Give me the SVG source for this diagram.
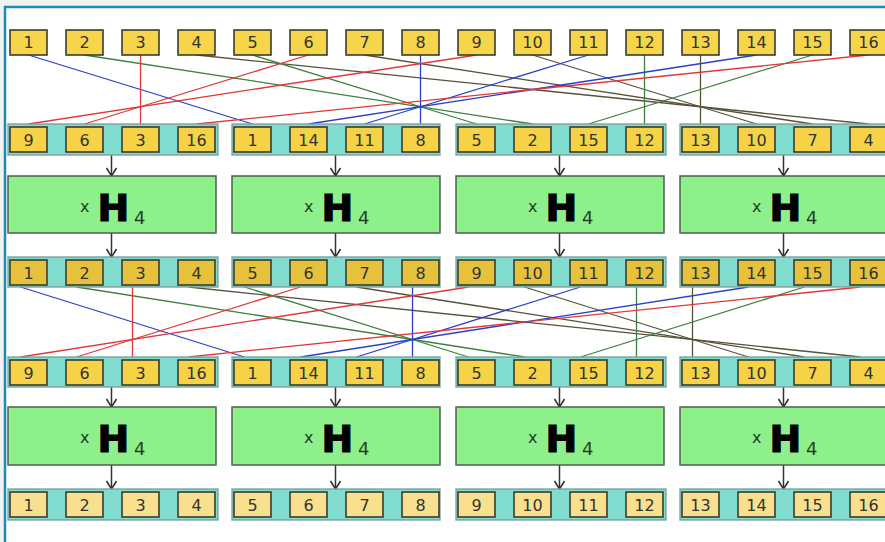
<svg xmlns="http://www.w3.org/2000/svg" width="885" height="542" viewBox="0 0 885 542">
<defs>
<style>
.bg{fill:#f2f2f2}
.frame{fill:#ffffff;stroke:#1b8cb6;stroke-width:2.5}
.strip{fill:#80ddd0;stroke:#7a9c94;stroke-width:1.3}
.b1{fill:#f7d54a;stroke:#3d3b2c;stroke-width:1.6}
.b2{fill:#f5d246;stroke:#3d3b2c;stroke-width:1.6}
.b3{fill:#e6c13c;stroke:#3d3b2c;stroke-width:1.6}
.b5{fill:#f8e08e;stroke:#3d3b2c;stroke-width:1.6}
.t{font-family:"DejaVu Sans",Verdana,sans-serif;font-size:16px;fill:#333;text-anchor:middle}
.h{fill:#8ef08a;stroke:#4f5f4f;stroke-width:1.5}
.hx{font-family:"DejaVu Sans",sans-serif;font-size:16px;fill:#2a3a2a}
.hH{font-family:"DejaVu Sans",sans-serif;font-weight:bold;font-size:38px;fill:#000;stroke:#000;stroke-width:1.2}
.h4{font-family:"DejaVu Sans",sans-serif;font-size:18px;fill:#2a3a2a}
.r{stroke:#e0383a;stroke-width:1.3;fill:none}
.u{stroke:#2c3fc8;stroke-width:1.3;fill:none}
.g{stroke:#3f7f3f;stroke-width:1.3;fill:none}
.d{stroke:#57503a;stroke-width:1.3;fill:none}
.ar{stroke:#333;stroke-width:1.5;fill:none}
</style>
<marker id="ah" markerUnits="userSpaceOnUse" markerWidth="12" markerHeight="12" refX="9" refY="6" orient="auto" viewBox="0 0 12 12">
<path d="M1,1 L9,6 L1,11" stroke="#333" stroke-width="1.6" fill="none"/>
</marker>
</defs>
<rect class="bg" x="0" y="0" width="885" height="542"/>
<rect class="frame" x="5" y="7" width="900" height="600"/>

<g id="connectors">
<!-- first permutation -->
<line class="u" x1="28.5" y1="55" x2="252.5" y2="124"/>
<line class="g" x1="84.5" y1="55" x2="532.5" y2="124"/>
<line class="r" x1="140.5" y1="55" x2="140.5" y2="124"/>
<line class="d" x1="196.5" y1="55" x2="868.5" y2="124"/>
<line class="g" x1="252.5" y1="55" x2="476.5" y2="124"/>
<line class="r" x1="308.5" y1="55" x2="84.5" y2="124"/>
<line class="d" x1="364.5" y1="55" x2="812.5" y2="124"/>
<line class="u" x1="420.5" y1="55" x2="420.5" y2="124"/>
<line class="r" x1="476.5" y1="55" x2="28.5" y2="124"/>
<line class="d" x1="532.5" y1="55" x2="756.5" y2="124"/>
<line class="u" x1="588.5" y1="55" x2="364.5" y2="124"/>
<line class="g" x1="644.5" y1="55" x2="644.5" y2="124"/>
<line class="d" x1="700.5" y1="55" x2="700.5" y2="124"/>
<line class="u" x1="756.5" y1="55" x2="308.5" y2="124"/>
<line class="g" x1="812.5" y1="55" x2="588.5" y2="124"/>
<line class="r" x1="868.5" y1="55" x2="196.5" y2="124"/>
<!-- second permutation -->
<line class="u" x1="20.5" y1="287" x2="244.5" y2="357"/>
<line class="g" x1="76.5" y1="287" x2="524.5" y2="357"/>
<line class="r" x1="132.5" y1="287" x2="132.5" y2="357"/>
<line class="d" x1="188.5" y1="287" x2="860.5" y2="357"/>
<line class="g" x1="244.5" y1="287" x2="468.5" y2="357"/>
<line class="r" x1="300.5" y1="287" x2="76.5" y2="357"/>
<line class="d" x1="356.5" y1="287" x2="804.5" y2="357"/>
<line class="u" x1="412.5" y1="287" x2="412.5" y2="357"/>
<line class="r" x1="468.5" y1="287" x2="20.5" y2="357"/>
<line class="d" x1="524.5" y1="287" x2="748.5" y2="357"/>
<line class="u" x1="580.5" y1="287" x2="356.5" y2="357"/>
<line class="g" x1="636.5" y1="287" x2="636.5" y2="357"/>
<line class="d" x1="692.5" y1="287" x2="692.5" y2="357"/>
<line class="u" x1="748.5" y1="287" x2="300.5" y2="357"/>
<line class="g" x1="804.5" y1="287" x2="580.5" y2="357"/>
<line class="r" x1="860.5" y1="287" x2="188.5" y2="357"/>
<!-- arrows -->
<path class="ar" marker-end="url(#ah)" d="M111.5,155 V176"/>
<path class="ar" marker-end="url(#ah)" d="M335.5,155 V176"/>
<path class="ar" marker-end="url(#ah)" d="M559.5,155 V176"/>
<path class="ar" marker-end="url(#ah)" d="M783.5,155 V176"/>
<path class="ar" marker-end="url(#ah)" d="M111.5,233 V257"/>
<path class="ar" marker-end="url(#ah)" d="M335.5,233 V257"/>
<path class="ar" marker-end="url(#ah)" d="M559.5,233 V257"/>
<path class="ar" marker-end="url(#ah)" d="M783.5,233 V257"/>
<path class="ar" marker-end="url(#ah)" d="M111.5,387 V407"/>
<path class="ar" marker-end="url(#ah)" d="M335.5,387 V407"/>
<path class="ar" marker-end="url(#ah)" d="M559.5,387 V407"/>
<path class="ar" marker-end="url(#ah)" d="M783.5,387 V407"/>
<path class="ar" marker-end="url(#ah)" d="M111.5,465 V489"/>
<path class="ar" marker-end="url(#ah)" d="M335.5,465 V489"/>
<path class="ar" marker-end="url(#ah)" d="M559.5,465 V489"/>
<path class="ar" marker-end="url(#ah)" d="M783.5,465 V489"/>
</g>

<!-- Row 1 -->
<g id="row1">
<rect class="b1" x="10" y="30" width="37" height="25"/><text class="t" x="28.5" y="48">1</text>
<rect class="b1" x="66" y="30" width="37" height="25"/><text class="t" x="84.5" y="48">2</text>
<rect class="b1" x="122" y="30" width="37" height="25"/><text class="t" x="140.5" y="48">3</text>
<rect class="b1" x="178" y="30" width="37" height="25"/><text class="t" x="196.5" y="48">4</text>
<rect class="b1" x="234" y="30" width="37" height="25"/><text class="t" x="252.5" y="48">5</text>
<rect class="b1" x="290" y="30" width="37" height="25"/><text class="t" x="308.5" y="48">6</text>
<rect class="b1" x="346" y="30" width="37" height="25"/><text class="t" x="364.5" y="48">7</text>
<rect class="b1" x="402" y="30" width="37" height="25"/><text class="t" x="420.5" y="48">8</text>
<rect class="b1" x="458" y="30" width="37" height="25"/><text class="t" x="476.5" y="48">9</text>
<rect class="b1" x="514" y="30" width="37" height="25"/><text class="t" x="532.5" y="48">10</text>
<rect class="b1" x="570" y="30" width="37" height="25"/><text class="t" x="588.5" y="48">11</text>
<rect class="b1" x="626" y="30" width="37" height="25"/><text class="t" x="644.5" y="48">12</text>
<rect class="b1" x="682" y="30" width="37" height="25"/><text class="t" x="700.5" y="48">13</text>
<rect class="b1" x="738" y="30" width="37" height="25"/><text class="t" x="756.5" y="48">14</text>
<rect class="b1" x="794" y="30" width="37" height="25"/><text class="t" x="812.5" y="48">15</text>
<rect class="b1" x="850" y="30" width="37" height="25"/><text class="t" x="868.5" y="48">16</text>
</g>

<!-- Row 2 -->
<g id="row2">
<rect class="strip" x="8" y="124" width="210" height="31"/>
<rect class="strip" x="232" y="124" width="208" height="31"/>
<rect class="strip" x="456" y="124" width="210" height="31"/>
<rect class="strip" x="680" y="124" width="210" height="31"/>
<rect class="b2" x="10" y="127" width="37" height="25"/><text class="t" x="28.5" y="145.5">9</text>
<rect class="b2" x="66" y="127" width="37" height="25"/><text class="t" x="84.5" y="145.5">6</text>
<rect class="b2" x="122" y="127" width="37" height="25"/><text class="t" x="140.5" y="145.5">3</text>
<rect class="b2" x="178" y="127" width="37" height="25"/><text class="t" x="196.5" y="145.5">16</text>
<rect class="b2" x="234" y="127" width="37" height="25"/><text class="t" x="252.5" y="145.5">1</text>
<rect class="b2" x="290" y="127" width="37" height="25"/><text class="t" x="308.5" y="145.5">14</text>
<rect class="b2" x="346" y="127" width="37" height="25"/><text class="t" x="364.5" y="145.5">11</text>
<rect class="b2" x="402" y="127" width="37" height="25"/><text class="t" x="420.5" y="145.5">8</text>
<rect class="b2" x="458" y="127" width="37" height="25"/><text class="t" x="476.5" y="145.5">5</text>
<rect class="b2" x="514" y="127" width="37" height="25"/><text class="t" x="532.5" y="145.5">2</text>
<rect class="b2" x="570" y="127" width="37" height="25"/><text class="t" x="588.5" y="145.5">15</text>
<rect class="b2" x="626" y="127" width="37" height="25"/><text class="t" x="644.5" y="145.5">12</text>
<rect class="b2" x="682" y="127" width="37" height="25"/><text class="t" x="700.5" y="145.5">13</text>
<rect class="b2" x="738" y="127" width="37" height="25"/><text class="t" x="756.5" y="145.5">10</text>
<rect class="b2" x="794" y="127" width="37" height="25"/><text class="t" x="812.5" y="145.5">7</text>
<rect class="b2" x="850" y="127" width="37" height="25"/><text class="t" x="868.5" y="145.5">4</text>
</g>

<!-- H4 row A -->
<g id="hA1"><rect class="h" x="8" y="176" width="208" height="57"/><text class="hx" x="80" y="212">x</text><text class="hH" x="97.5" y="221">H</text><text class="h4" x="134" y="224">4</text></g>
<g id="hA2"><rect class="h" x="232" y="176" width="208" height="57"/><text class="hx" x="304" y="212">x</text><text class="hH" x="321.5" y="221">H</text><text class="h4" x="358" y="224">4</text></g>
<g id="hA3"><rect class="h" x="456" y="176" width="208" height="57"/><text class="hx" x="528" y="212">x</text><text class="hH" x="545.5" y="221">H</text><text class="h4" x="582" y="224">4</text></g>
<g id="hA4"><rect class="h" x="680" y="176" width="208" height="57"/><text class="hx" x="752" y="212">x</text><text class="hH" x="769.5" y="221">H</text><text class="h4" x="806" y="224">4</text></g>

<!-- Row 3 -->
<g id="row3">
<rect class="strip" x="8" y="257" width="210" height="30"/>
<rect class="strip" x="232" y="257" width="208" height="30"/>
<rect class="strip" x="456" y="257" width="210" height="30"/>
<rect class="strip" x="680" y="257" width="210" height="30"/>
<rect class="b3" x="10" y="260" width="37" height="25"/><text class="t" x="28.5" y="278.5">1</text>
<rect class="b3" x="66" y="260" width="37" height="25"/><text class="t" x="84.5" y="278.5">2</text>
<rect class="b3" x="122" y="260" width="37" height="25"/><text class="t" x="140.5" y="278.5">3</text>
<rect class="b3" x="178" y="260" width="37" height="25"/><text class="t" x="196.5" y="278.5">4</text>
<rect class="b3" x="234" y="260" width="37" height="25"/><text class="t" x="252.5" y="278.5">5</text>
<rect class="b3" x="290" y="260" width="37" height="25"/><text class="t" x="308.5" y="278.5">6</text>
<rect class="b3" x="346" y="260" width="37" height="25"/><text class="t" x="364.5" y="278.5">7</text>
<rect class="b3" x="402" y="260" width="37" height="25"/><text class="t" x="420.5" y="278.5">8</text>
<rect class="b3" x="458" y="260" width="37" height="25"/><text class="t" x="476.5" y="278.5">9</text>
<rect class="b3" x="514" y="260" width="37" height="25"/><text class="t" x="532.5" y="278.5">10</text>
<rect class="b3" x="570" y="260" width="37" height="25"/><text class="t" x="588.5" y="278.5">11</text>
<rect class="b3" x="626" y="260" width="37" height="25"/><text class="t" x="644.5" y="278.5">12</text>
<rect class="b3" x="682" y="260" width="37" height="25"/><text class="t" x="700.5" y="278.5">13</text>
<rect class="b3" x="738" y="260" width="37" height="25"/><text class="t" x="756.5" y="278.5">14</text>
<rect class="b3" x="794" y="260" width="37" height="25"/><text class="t" x="812.5" y="278.5">15</text>
<rect class="b3" x="850" y="260" width="37" height="25"/><text class="t" x="868.5" y="278.5">16</text>
</g>

<!-- Row 4 -->
<g id="row4">
<rect class="strip" x="8" y="357" width="210" height="30"/>
<rect class="strip" x="232" y="357" width="208" height="30"/>
<rect class="strip" x="456" y="357" width="210" height="30"/>
<rect class="strip" x="680" y="357" width="210" height="30"/>
<rect class="b2" x="10" y="360" width="37" height="25"/><text class="t" x="28.5" y="378.5">9</text>
<rect class="b2" x="66" y="360" width="37" height="25"/><text class="t" x="84.5" y="378.5">6</text>
<rect class="b2" x="122" y="360" width="37" height="25"/><text class="t" x="140.5" y="378.5">3</text>
<rect class="b2" x="178" y="360" width="37" height="25"/><text class="t" x="196.5" y="378.5">16</text>
<rect class="b2" x="234" y="360" width="37" height="25"/><text class="t" x="252.5" y="378.5">1</text>
<rect class="b2" x="290" y="360" width="37" height="25"/><text class="t" x="308.5" y="378.5">14</text>
<rect class="b2" x="346" y="360" width="37" height="25"/><text class="t" x="364.5" y="378.5">11</text>
<rect class="b2" x="402" y="360" width="37" height="25"/><text class="t" x="420.5" y="378.5">8</text>
<rect class="b2" x="458" y="360" width="37" height="25"/><text class="t" x="476.5" y="378.5">5</text>
<rect class="b2" x="514" y="360" width="37" height="25"/><text class="t" x="532.5" y="378.5">2</text>
<rect class="b2" x="570" y="360" width="37" height="25"/><text class="t" x="588.5" y="378.5">15</text>
<rect class="b2" x="626" y="360" width="37" height="25"/><text class="t" x="644.5" y="378.5">12</text>
<rect class="b2" x="682" y="360" width="37" height="25"/><text class="t" x="700.5" y="378.5">13</text>
<rect class="b2" x="738" y="360" width="37" height="25"/><text class="t" x="756.5" y="378.5">10</text>
<rect class="b2" x="794" y="360" width="37" height="25"/><text class="t" x="812.5" y="378.5">7</text>
<rect class="b2" x="850" y="360" width="37" height="25"/><text class="t" x="868.5" y="378.5">4</text>
</g>

<!-- H4 row B -->
<g id="hB1"><rect class="h" x="8" y="407" width="208" height="58"/><text class="hx" x="80" y="443">x</text><text class="hH" x="97.5" y="452">H</text><text class="h4" x="134" y="455">4</text></g>
<g id="hB2"><rect class="h" x="232" y="407" width="208" height="58"/><text class="hx" x="304" y="443">x</text><text class="hH" x="321.5" y="452">H</text><text class="h4" x="358" y="455">4</text></g>
<g id="hB3"><rect class="h" x="456" y="407" width="208" height="58"/><text class="hx" x="528" y="443">x</text><text class="hH" x="545.5" y="452">H</text><text class="h4" x="582" y="455">4</text></g>
<g id="hB4"><rect class="h" x="680" y="407" width="208" height="58"/><text class="hx" x="752" y="443">x</text><text class="hH" x="769.5" y="452">H</text><text class="h4" x="806" y="455">4</text></g>

<!-- Row 5 -->
<g id="row5">
<rect class="strip" x="8" y="489" width="210" height="31"/>
<rect class="strip" x="232" y="489" width="208" height="31"/>
<rect class="strip" x="456" y="489" width="210" height="31"/>
<rect class="strip" x="680" y="489" width="210" height="31"/>
<rect class="b5" x="10" y="492" width="37" height="25"/><text class="t" x="28.5" y="510.5">1</text>
<rect class="b5" x="66" y="492" width="37" height="25"/><text class="t" x="84.5" y="510.5">2</text>
<rect class="b5" x="122" y="492" width="37" height="25"/><text class="t" x="140.5" y="510.5">3</text>
<rect class="b5" x="178" y="492" width="37" height="25"/><text class="t" x="196.5" y="510.5">4</text>
<rect class="b5" x="234" y="492" width="37" height="25"/><text class="t" x="252.5" y="510.5">5</text>
<rect class="b5" x="290" y="492" width="37" height="25"/><text class="t" x="308.5" y="510.5">6</text>
<rect class="b5" x="346" y="492" width="37" height="25"/><text class="t" x="364.5" y="510.5">7</text>
<rect class="b5" x="402" y="492" width="37" height="25"/><text class="t" x="420.5" y="510.5">8</text>
<rect class="b5" x="458" y="492" width="37" height="25"/><text class="t" x="476.5" y="510.5">9</text>
<rect class="b5" x="514" y="492" width="37" height="25"/><text class="t" x="532.5" y="510.5">10</text>
<rect class="b5" x="570" y="492" width="37" height="25"/><text class="t" x="588.5" y="510.5">11</text>
<rect class="b5" x="626" y="492" width="37" height="25"/><text class="t" x="644.5" y="510.5">12</text>
<rect class="b5" x="682" y="492" width="37" height="25"/><text class="t" x="700.5" y="510.5">13</text>
<rect class="b5" x="738" y="492" width="37" height="25"/><text class="t" x="756.5" y="510.5">14</text>
<rect class="b5" x="794" y="492" width="37" height="25"/><text class="t" x="812.5" y="510.5">15</text>
<rect class="b5" x="850" y="492" width="37" height="25"/><text class="t" x="868.5" y="510.5">16</text>
</g>
</svg>
